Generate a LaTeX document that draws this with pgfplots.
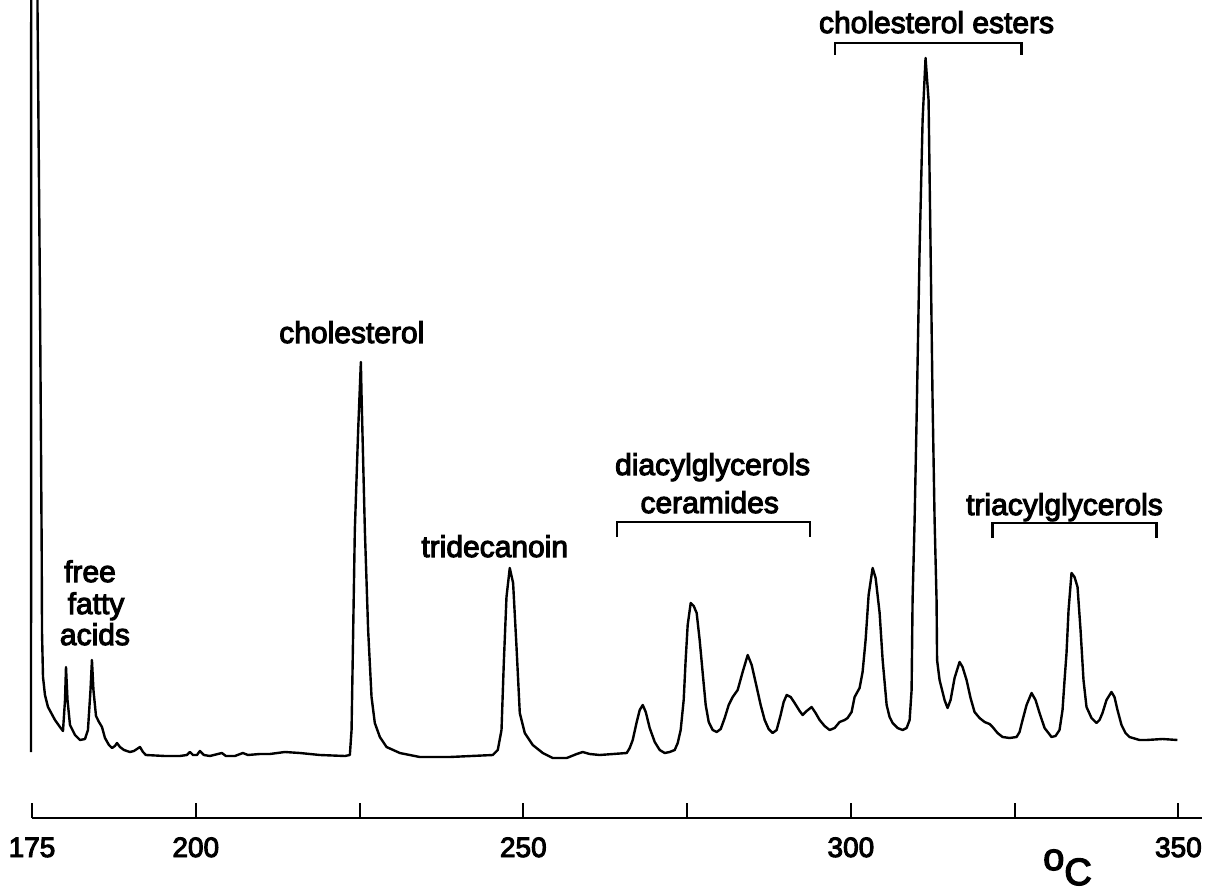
\documentclass[border=0pt]{standalone}
\usepackage{fontspec}
\setmainfont{Liberation Sans}
\newfontfamily\lab{Liberation Sans}[FakeBold=3.5]
\usepackage{pgfplots}
\pgfplotsset{compat=1.18}
\tikzset{lbl/.style={anchor=base, inner sep=0pt, font=\lab\fontsize{15}{15}\selectfont}}
\pgfplotstableread{
T S
174.85 3
174.88 790
175.82 790
175.84 748
176.22 455
176.48 205
176.53 122
176.68 78
176.98 60
177.44 48
178.51 35
179.27 28
179.73 24
180.04 55
180.19 88
180.42 55
180.80 30
181.56 20
182.32 15
183.09 16
183.54 25
183.93 65
184.15 95
184.38 65
184.77 39
185.22 33
185.68 28
186.14 17
186.75 10
187.21 7
187.66 9
187.97 12
188.43 8
189.04 5
189.95 3
190.56 4
191.48 8
191.94 3
192.39 0
195.29 -1
197.58 -1
198.65 0
199.11 3
199.57 0
200.18 0
200.63 4
201.24 0
202.16 -1
203.38 1
203.99 2
204.60 -1
205.97 -1
207.19 2
207.96 0
209.79 1
211.31 1
213.60 3
215.89 2
218.94 0
222.76 -1
223.52 0
223.78 25
224.28 225
224.79 325
225.20 393
225.31 358
225.81 225
226.31 125
226.83 58
227.33 32
228.10 18
229.12 8
231.15 2
234.20 -2
238.78 -2
245.34 0
246.10 5
246.67 25
247.02 92
247.43 158
247.93 187
248.44 172
248.96 108
249.46 42
250.22 22
251.44 10
252.97 2
254.49 -3
256.63 -3
258.15 1
259.07 3
260.14 1
261.66 0
265.78 2
266.24 7
266.70 15
267.31 33
267.77 45
268.23 50
268.69 43
269.29 27
270.06 13
270.82 5
271.58 2
272.34 3
273.11 5
273.57 12
274.02 25
274.48 55
274.78 95
275.09 130
275.55 152
276.01 149
276.46 142
276.92 115
277.38 82
277.84 50
278.30 33
278.91 25
279.52 23
280.13 26
280.74 37
281.35 50
281.96 58
282.72 65
283.48 83
284.25 100
284.86 90
285.62 68
286.23 50
286.84 35
287.45 26
288.06 22
288.67 25
289.28 40
289.74 53
290.20 60
290.81 58
291.42 52
292.18 44
292.64 40
293.25 44
294.01 48
294.62 42
295.23 35
295.99 29
296.76 25
297.52 27
298.28 33
299.05 35
299.50 37
300.11 43
300.57 58
301.33 67
301.79 83
302.25 115
302.71 160
303.32 187
303.78 177
304.39 142
304.85 95
305.46 50
305.91 38
306.37 32
307.13 27
307.90 25
308.51 27
308.97 35
309.27 65
309.42 155
309.73 235
310.03 335
310.49 505
310.95 635
311.40 697
311.86 655
312.17 505
312.47 355
312.78 235
313.08 155
313.16 95
313.54 75
314.30 55
314.76 47
315.22 55
315.83 77
316.59 93
317.05 88
317.66 75
318.27 57
318.88 43
319.64 37
320.41 33
321.17 31
321.63 28
322.39 22
323.15 18
324.22 17
325.29 18
325.75 23
326.21 35
326.82 50
327.58 62
328.19 55
328.80 42
329.57 27
330.63 18
331.24 19
331.85 25
332.31 45
332.62 75
332.92 102
333.23 145
333.68 182
334.14 178
334.60 168
335.06 125
335.51 75
335.97 48
336.73 37
337.50 32
337.96 35
338.41 42
339.02 55
339.78 63
340.24 58
340.70 45
341.31 30
341.92 22
342.53 18
344.06 15
345.12 15
347.57 16
349.85 15
}\chrom
\begin{document}
\begin{tikzpicture}
\useasboundingbox (-16pt,-36pt) rectangle (589.5pt,409pt);
\begin{axis}[
  scale only axis,
  width=585pt, height=409pt,
  xmin=175, xmax=353.6,
  ymin=-63, ymax=755,
  clip=false,
  axis x line=bottom,
  axis y line=none,
  axis line style={black, line width=1pt, -},
  xtick={175,200,225,250,275,300,325,350},
  xticklabels={175,200,,250,,300,,350},
  xtick align=inside,
  major tick length=7.5pt,
  tick style={black, line width=1pt},
  /pgf/number format/assume math mode=true,
  xticklabel style={anchor=base, yshift=-19.5pt, font=\lab\fontsize{14}{14}\selectfont},
]
\addplot[black, line width=1.2pt, line join=round, mark=none] table[x=T, y=S] {\chrom};

\node[lbl] at (axis cs:183.85,173) {free};
\node[lbl] at (axis cs:184.77,141) {fatty};
\node[lbl] at (axis cs:184.61,110) {acids};
\node[lbl] at (axis cs:223.82,412) {cholesterol};
\node[lbl] at (axis cs:245.64,198) {tridecanoin};
\node[lbl] at (axis cs:278.90,280) {diacylglycerols};
\node[lbl] at (axis cs:278.45,242) {ceramides};
\node[lbl] at (axis cs:313.08,722) {cholesterol esters};
\node[lbl] at (axis cs:332.61,240) {triacylglycerols};
\draw[black, line width=1.1pt] (axis cs:264.26,218) -- (axis cs:264.26,233) -- (axis cs:293.71,233) -- (axis cs:293.71,218);
\draw[black, line width=1.1pt] (axis cs:297.52,700) -- (axis cs:297.52,712) -- (axis cs:326.05,712) -- (axis cs:326.05,700);
\draw[black, line width=1.1pt] (axis cs:321.63,217) -- (axis cs:321.63,232) -- (axis cs:346.65,232) -- (axis cs:346.65,217);
\node[anchor=base, inner sep=0pt, font=\lab\fontsize{19}{19}\selectfont] at (axis cs:333.07,-130) {\raisebox{7.5pt}{o}C};
\end{axis}
\end{tikzpicture}
\end{document}
